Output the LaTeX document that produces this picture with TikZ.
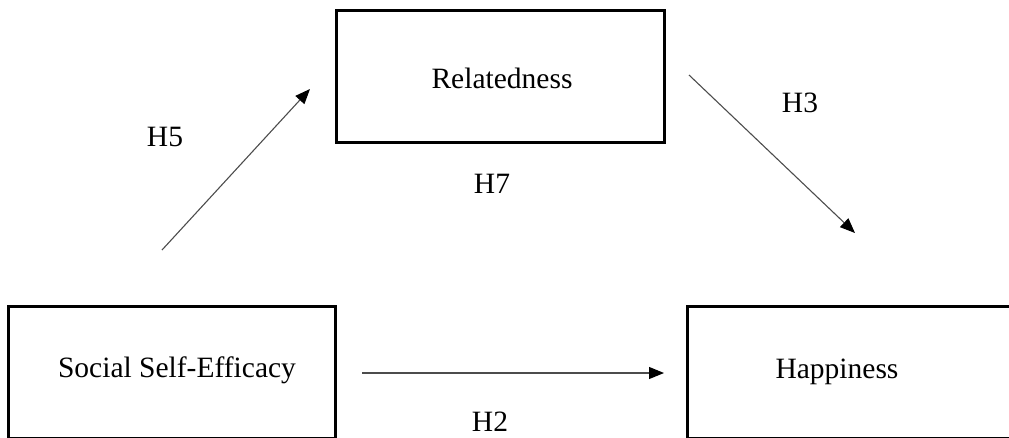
\documentclass[tikz,border=0pt]{standalone}
\usepackage{fontspec}
\setmainfont{Liberation Serif}
\usetikzlibrary{arrows.meta}
\begin{document}
\begin{tikzpicture}[x=1pt,y=-1pt,
  box/.style={draw=black,line width=2.6pt,rectangle,inner sep=0pt,anchor=north west},
  lbl/.style={font=\fontsize{29.5}{35}\selectfont,inner sep=0pt,anchor=center},
  link/.style={draw=black!70,line width=1.1pt,-{Triangle[length=15pt,width=12pt,fill=black,color=black]}}]
\useasboundingbox (0,0) rectangle (1009,437);
\clip (0,0) rectangle (1009,437);
% boxes
\node[box,minimum width=328pt,minimum height=132pt] (rel) at (335,9) {};
\node[box,minimum width=327pt,minimum height=132pt] (sse) at (7,305) {};
\node[box,minimum width=330pt,minimum height=132pt] (hap) at (686,305) {};
% box texts
\node[lbl] (relt) at (502,78) {Relatedness};
\node[lbl] (sset) at (177,370) {Social Self-Efficacy};
\node[lbl] (hapt) at (837,372) {Happiness};
% arrow end points
\coordinate (h5s) at (162,250);
\coordinate (h5e) at (310,89);
\coordinate (h3s) at (689,75);
\coordinate (h3e) at (855,233);
\coordinate (h2s) at (362,373);
\coordinate (h2e) at (664,373);
\draw[link] (h5s) -- (h5e);
\draw[link] (h3s) -- (h3e);
\draw[link] (h2s) -- (h2e);
% labels
\node[lbl] (H5) at (165,137) {H5};
\node[lbl] (H7) at (492,184) {H7};
\node[lbl] (H3) at (800,103) {H3};
\node[lbl] (H2) at (490,422) {H2};
\end{tikzpicture}
\end{document}
